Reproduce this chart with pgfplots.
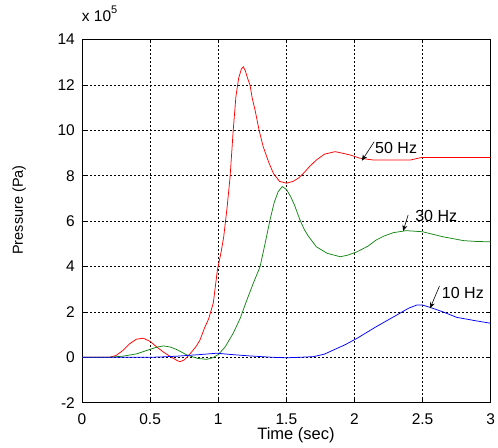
\documentclass[border=0pt]{standalone}
\usepackage{fontspec}
\setmainfont{Liberation Sans}
\usepackage{pgfplots}
\pgfplotsset{compat=1.18}
\usetikzlibrary{arrows.meta,calc}
\definecolor{mgreen}{RGB}{20,135,20}
\begin{document}
\begin{tikzpicture}
\begin{axis}[name=ax, scale only axis, width=408.7bp, height=363.2bp,
  xmin=0, xmax=3, ymin=-2, ymax=14,
  xtick={0,0.5,1,1.5,2,2.5,3}, ytick={-2,0,2,4,6,8,10,12,14},
  xticklabels={0,0.5,1,1.5,2,2.5,3},
  grid=major, grid style={black, line width=0.5bp, dash pattern=on 2bp off 2bp},
  axis line style={black, line width=0.8bp},
  tick align=inside, major tick length=4bp, tick style={black, line width=0.6bp},
  /pgf/number format/assume math mode=true,
  ticklabel style={font=\fontsize{15.5bp}{18bp}\selectfont, inner sep=0pt},
  xticklabel style={anchor=base, yshift=-21.3bp},
  yticklabel style={anchor=east, xshift=-7bp},
  scaled ticks=false, clip=false]
\addplot[red, line width=0.75bp] coordinates {
(0,0) (0.2,0) (0.25,0.08) (0.3,0.3) (0.35,0.6) (0.4,0.8) (0.45,0.84) (0.5,0.7) (0.55,0.45) (0.6,0.22) (0.65,0.03) (0.7,-0.15) (0.72,-0.19) (0.75,-0.12) (0.77,0) (0.8,0.2) (0.84,0.5) (0.866,0.76) (0.9,1.3) (0.93,1.7) (0.964,2.4) (0.994,3.85) (1.02,4.6) (1.04,5.3) (1.065,6.6) (1.087,7.95) (1.11,10.0) (1.13,11.5) (1.15,12.3) (1.17,12.7) (1.184,12.8) (1.2,12.6) (1.215,12.3) (1.233,12.0) (1.25,11.4) (1.27,10.9) (1.3,10.0) (1.33,9.28) (1.37,8.6) (1.405,8.1) (1.45,7.75) (1.5,7.67) (1.55,7.75) (1.59,7.9) (1.625,8.1) (1.67,8.4) (1.72,8.69) (1.78,8.95) (1.858,9.06) (1.92,8.98) (1.97,8.91) (2.04,8.77) (2.14,8.69) (2.3,8.69) (2.41,8.69) (2.49,8.8) (3,8.8)};
\addplot[mgreen, line width=0.75bp] coordinates {
(0,0) (0.2,0) (0.3,0.05) (0.4,0.15) (0.45,0.25) (0.5,0.35) (0.55,0.45) (0.6,0.5) (0.65,0.45) (0.7,0.33) (0.77,0.1) (0.85,-0.05) (0.915,-0.09) (0.96,-0.02) (1.0,0.12) (1.05,0.45) (1.11,1.06) (1.16,1.7) (1.21,2.52) (1.26,3.3) (1.307,3.99) (1.34,4.9) (1.38,6.05) (1.41,6.8) (1.44,7.3) (1.47,7.52) (1.5,7.4) (1.53,7.1) (1.56,6.7) (1.6,6.05) (1.63,5.65) (1.66,5.35) (1.72,4.87) (1.8,4.58) (1.896,4.43) (1.95,4.5) (2.02,4.65) (2.1,4.9) (2.16,5.17) (2.22,5.35) (2.285,5.49) (2.38,5.58) (2.5,5.53) (2.65,5.31) (2.8,5.14) (2.9,5.1) (3,5.09)};
\addplot[blue, line width=0.75bp] coordinates {
(0,0) (0.5,0) (0.6,0.02) (0.7,0.05) (0.77,0.08) (0.866,0.12) (0.99,0.18) (1.1,0.12) (1.233,0.06) (1.4,0.0) (1.5,-0.02) (1.6,0.0) (1.7,0.03) (1.78,0.14) (1.845,0.32) (1.93,0.55) (2.02,0.84) (2.16,1.35) (2.31,1.86) (2.4,2.17) (2.457,2.3) (2.5,2.3) (2.555,2.2) (2.65,2.0) (2.75,1.76) (2.88,1.62) (3,1.5)};
\draw[black, line width=0.6bp, -{Stealth[length=6bp,width=5bp]}] (axis cs:2.144,9.49) -- (axis cs:2.054,8.66);
\draw[black, line width=0.6bp, -{Stealth[length=6bp,width=5bp]}] (axis cs:2.394,6.27) -- (axis cs:2.357,5.56);
\draw[black, line width=0.6bp, -{Stealth[length=6bp,width=5bp]}] (axis cs:2.624,3.14) -- (axis cs:2.555,2.16);
\node[anchor=base west, inner sep=0pt, font=\fontsize{16bp}{19bp}\selectfont] at (axis cs:2.151,8.99) {50 Hz};
\node[anchor=base west, inner sep=0pt, font=\fontsize{16bp}{19bp}\selectfont] at (axis cs:2.445,6.0) {30 Hz};
\node[anchor=base west, inner sep=0pt, font=\fontsize{16bp}{19bp}\selectfont] at (axis cs:2.641,2.6) {10 Hz};
\end{axis}
\node[anchor=base, inner sep=0pt, font=\fontsize{16.5bp}{19bp}\selectfont] at ($(ax.south west)+(214bp,-36.3bp)$) {Time (sec)};
\node[anchor=center, rotate=90, inner sep=0pt, font=\fontsize{14.5bp}{17bp}\selectfont] at ($(ax.south west)+(-63bp,192.7bp)$) {Pressure (Pa)};
\node[anchor=base west, inner sep=0pt, font=\fontsize{15.5bp}{18bp}\selectfont] at ($(ax.north west)+(-0.3bp,17.8bp)$) {x 10\raisebox{0.5em}{\fontsize{11bp}{12bp}\selectfont 5}};
\pgfresetboundingbox
\useasboundingbox ($(ax.south west)+(-82bp,-45.3bp)$) rectangle ($(ax.north east)+(7.3bp,39.5bp)$);
\end{tikzpicture}
\end{document}
